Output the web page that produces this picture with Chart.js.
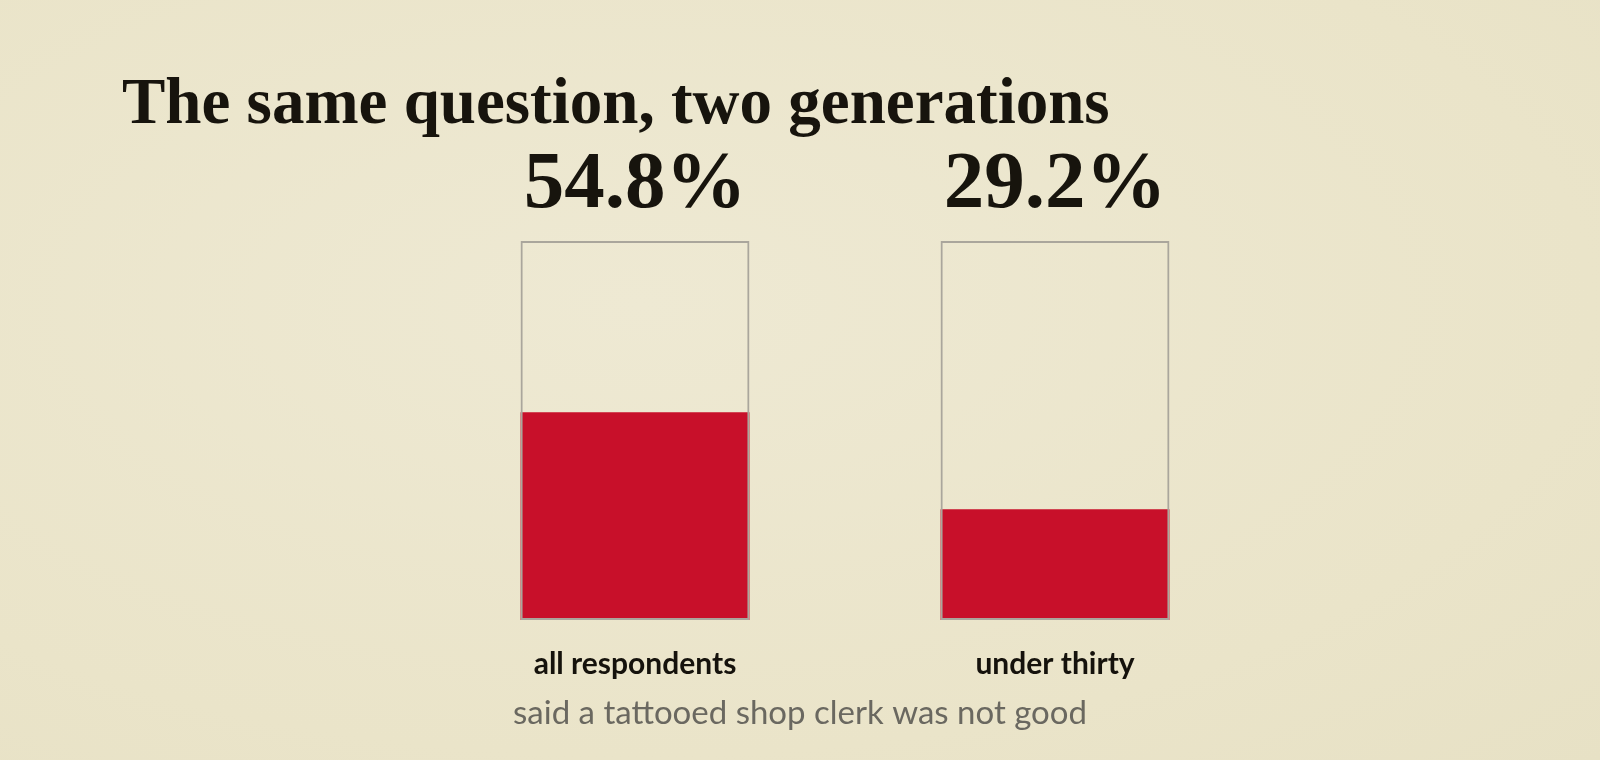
<!DOCTYPE html>
<html>
<head>
<meta charset="utf-8">
<script src="https://cdn.jsdelivr.net/npm/chart.js@4.4.1/dist/chart.umd.min.js"></script>
<style>
  html, body { margin: 0; padding: 0; background: #ebe6cd; }
  #wrap { width: 1600px; height: 760px; position: relative;
    background: radial-gradient(ellipse at 40% 40%, #eee9d3 0%, #eae4c9 70%, #e7e1c5 100%); }
  canvas { display: block; }
</style>
</head>
<body>
<div id="wrap"><canvas id="chart" width="1600" height="760"></canvas></div>
<script>
// data
const categories = ['all respondents', 'under thirty'];
const shares = [54.8, 29.2];      // % who said "not good"
const fullScale = [100, 100];     // outline = the whole 100%
const titleText = 'The same question, two generations';
const captionText = 'said a tattooed shop clerk was not good';

// draws the title, the big percentages, category names and the caption
const textPlugin = {
  id: 'texts',
  afterDraw(chart) {
    const { ctx, chartArea } = chart;
    const x = chart.scales.x;
    ctx.save();

    ctx.fillStyle = '#17140d';
    ctx.font = 'bold 65px "Liberation Serif", serif';
    ctx.textAlign = 'left';
    ctx.textBaseline = 'alphabetic';
    ctx.fillText(titleText, 122, 123);

    ctx.textAlign = 'center';
    shares.forEach((v, i) => {
      const cx = x.getPixelForValue(i);
      ctx.fillStyle = '#17140d';
      ctx.font = 'bold 81px "Liberation Serif", serif';
      ctx.fillText(v.toFixed(1) + '%', cx, chartArea.top - 34);

      ctx.fillStyle = '#15120c';
      ctx.font = 'bold 30px Lato, sans-serif';
      ctx.fillText(categories[i], cx, chartArea.bottom + 54);
    });

    ctx.fillStyle = '#6a6860';
    ctx.font = '33px Lato, sans-serif';
    ctx.fillText(captionText, chart.width / 2, chartArea.bottom + 104);
    ctx.restore();
  }
};

new Chart(document.getElementById('chart'), {
  type: 'bar',
  data: {
    labels: categories,
    datasets: [
      { data: shares, backgroundColor: '#c8102a', borderWidth: 0, order: 1 },
      { data: fullScale, backgroundColor: 'rgba(0,0,0,0)', borderColor: '#aaa69c', borderWidth: 2, borderSkipped: false, order: 0 },
    ],
  },
  options: {
    responsive: false,
    animation: false,
    devicePixelRatio: 1,
    layout: { padding: { top: 241, bottom: 140, left: 425, right: 335 } },
    datasets: { bar: { grouped: false, barPercentage: 0.545, categoryPercentage: 1 } },
    plugins: {
      legend: { display: false },
      tooltip: { enabled: false },
      title: { display: false },
    },
    scales: {
      x: { display: false },
      y: { display: false, min: 0, max: 100 },
    },
  },
  plugins: [textPlugin],
});
</script>
</body>
</html>
